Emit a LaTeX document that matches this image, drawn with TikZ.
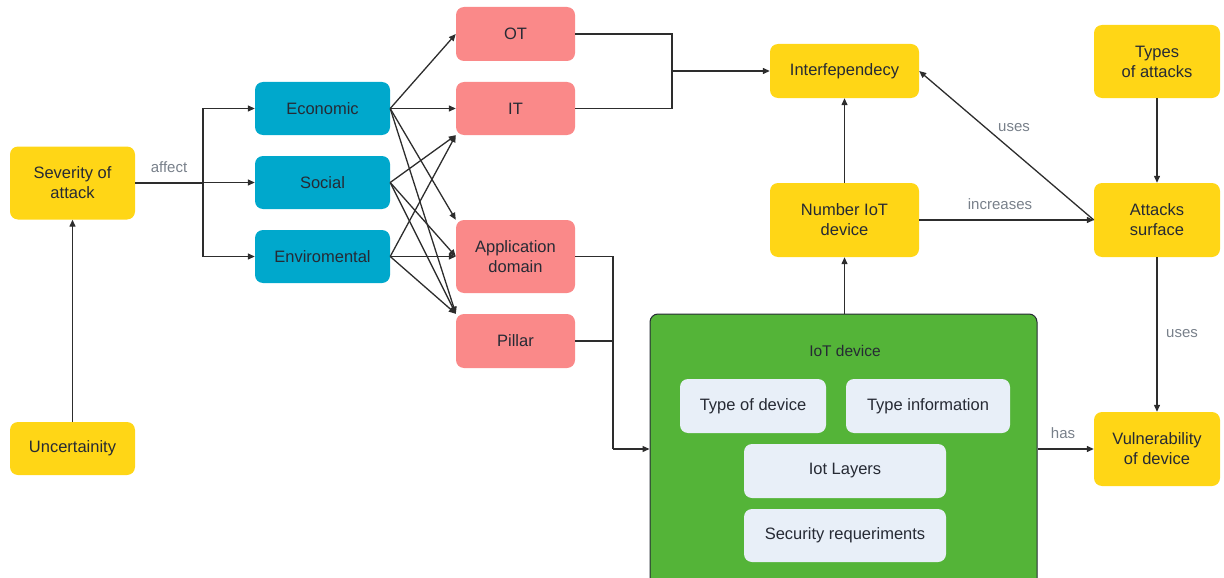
\documentclass[tikz,border=0pt]{standalone}
\usepackage{fontspec}
\setmainfont{Liberation Sans}
\usetikzlibrary{arrows.meta}
\definecolor{ink}{RGB}{38,42,52}
\definecolor{lbl}{RGB}{120,128,138}
\definecolor{wire}{RGB}{45,45,45}
\definecolor{yel}{RGB}{255,214,22}
\definecolor{blu}{RGB}{0,168,204}
\definecolor{pnk}{RGB}{250,137,137}
\definecolor{grn}{RGB}{84,180,56}
\definecolor{pale}{RGB}{232,239,248}
\tikzset{
  card/.style={rounded corners=8pt, inner sep=0pt, align=center, text=ink,
    font=\fontsize{16.5}{20}\selectfont},
  ybox/.style={card, fill=yel},
  bbox/.style={card, fill=blu},
  pbox/.style={card, fill=pnk},
  lbox/.style={card, fill=pale},
  wire/.style={draw=wire, line width=1.3pt},
  arr/.style={wire, -{Triangle[length=7pt,width=6pt]}},
  tag/.style={text=lbl, font=\fontsize{15}{18}\selectfont, inner sep=0pt},
}
\begin{document}
\begin{tikzpicture}[x=1pt,y=-1pt]
\useasboundingbox (0,0) rectangle (1224,578);
\clip (0,0) rectangle (1224,578);

% left column
\node[ybox, minimum width=125, minimum height=73] (sev) at (72.5,183) {Severity of\\attack};
\node[ybox, minimum width=125, minimum height=53] (unc) at (72.5,448.5) {Uncertainity};

% impact categories
\node[bbox, minimum width=135, minimum height=53] (eco) at (322.5,108.5) {Economic};
\node[bbox, minimum width=135, minimum height=53] (soc) at (322.5,182.5) {Social};
\node[bbox, minimum width=135, minimum height=53] (env) at (322.5,256.5) {Enviromental};

% affected domains
\node[pbox, minimum width=119, minimum height=54] (ot) at (515.5,34) {OT};
\node[pbox, minimum width=119, minimum height=53] (it) at (515.5,108.5) {IT};
\node[pbox, minimum width=119, minimum height=73] (app) at (515.5,256.5) {Application\\domain};
\node[pbox, minimum width=119, minimum height=54] (pil) at (515.5,341) {Pillar};

% right side
\node[ybox, minimum width=149, minimum height=54] (intd) at (844.5,71) {Interfependecy};
\node[ybox, minimum width=149, minimum height=74] (num) at (844.5,220) {Number IoT\\device};
\node[ybox, minimum width=126, minimum height=73] (typ) at (1157,61.5) {Types\\of attacks};
\node[ybox, minimum width=126, minimum height=74] (att) at (1157,220) {Attacks\\surface};
\node[ybox, minimum width=126, minimum height=74] (vul) at (1157,449) {Vulnerability\\of device};

% IoT device container
\node[draw=ink, line width=1pt, fill=grn, rounded corners=8pt, minimum width=387, minimum height=280,
  inner sep=0pt] (iot) at (843.5,454) {};
\node[text=ink, font=\fontsize{15.5}{18}\selectfont] (iottitle) at (845,351) {IoT device};
\node[lbox, minimum width=146, minimum height=54] (tod) at (753,406) {Type of device};
\node[lbox, minimum width=164, minimum height=54] (tin) at (928,406) {Type information};
\node[lbox, minimum width=202, minimum height=54] (lay) at (845,471) {Iot Layers};
\node[lbox, minimum width=202, minimum height=53] (sec) at (845,535.5) {Security requeriments};

% severity fan-out
\draw[arr] (unc) -- (sev);
\coordinate (fork) at (203,183);
\draw[wire] (sev.east) -- (fork);
\draw[arr] (fork) |- (eco.west);
\draw[arr] (fork) |- (soc.west);
\draw[arr] (fork) |- (env.west);
\node[tag] (taffect) at (169,167) {affect};

% category to domain links
\draw[arr] (eco.east) -- (ot.west);
\draw[arr] (eco.east) -- (it.west);
\draw[arr] (eco.east) -- (app.north west);
\draw[arr] (eco.east) -- (pil.north west);
\draw[arr] (soc.east) -- (it.south west);
\draw[arr] (soc.east) -- (app.west);
\draw[arr] (soc.east) -- (pil.north west);
\draw[arr] (env.east) -- (it.south west);
\draw[arr] (env.east) -- (app.west);
\draw[arr] (env.east) -- (pil.north west);

% OT / IT into interdependency
\coordinate (j1) at (672,71);
\draw[wire] (ot.east) -| (j1);
\draw[wire] (it.east) -| (j1);
\draw[arr] (j1) -- (intd.west);

% application domain / pillar into IoT device
\coordinate (j2) at (613,449);
\draw[wire] (app.east) -| (j2);
\draw[wire] (pil.east) -| (j2);
\draw[arr] (j2) -- (j2 -| iot.west);

% right-hand chain
\draw[arr] (num.south |- iot.north) -- (num.south);
\draw[arr] (num.north) -- (intd.south);
\draw[arr] (num.east) -- (att.west);
\node[tag] (tinc) at (1000,204) {increases};
\draw[arr] (att.west) -- (intd.east);
\node[tag] (tuses1) at (1014,128) {uses};
\draw[arr] (typ.south) -- (att.north);
\draw[arr] (att.south) -- (vul.north);
\node[tag] (tuses2) at (1182,334) {uses};
\draw[arr] (vul.west -| iot.east) -- (vul.west);
\node[tag] (thas) at (1063,433) {has};
\end{tikzpicture}
\end{document}
